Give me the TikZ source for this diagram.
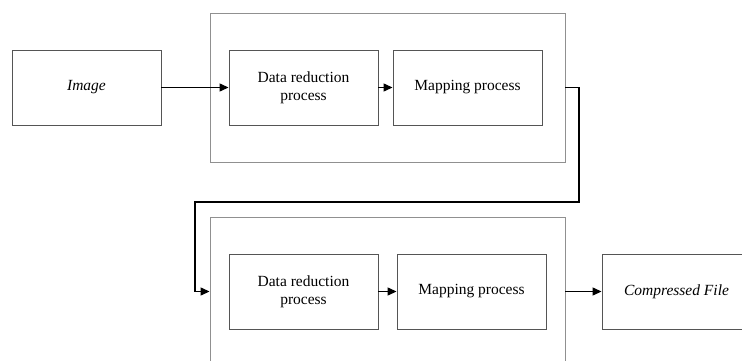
\documentclass[tikz,border=0pt]{standalone}
\usepackage{fontspec}
\setmainfont{Liberation Serif}
\usetikzlibrary{arrows.meta}
\definecolor{outergray}{HTML}{909090}
\definecolor{innergray}{HTML}{555555}
\tikzset{
  outerbox/.style={draw=outergray, line width=0.9pt, minimum width=355pt, minimum height=149pt, inner sep=0pt},
  procbox/.style={draw=innergray, line width=0.9pt, minimum width=149pt, minimum height=75pt, inner sep=0pt, align=center, font=\fontsize{15.5}{18}\selectfont},
  flow/.style={line width=1.3pt, -{Triangle[length=9pt,width=8pt]}}
}
\begin{document}
\begin{tikzpicture}[x=1pt,y=-1pt]
\useasboundingbox (0,0) rectangle (742,361);
\clip (0,0) rectangle (742,361);
\fill[white] (0,0) rectangle (742,361);
\node[outerbox] (outer1) at (387.5,87.5) {};
\node[outerbox] (outer2) at (387.5,291.5) {};
\node[procbox] (img) at (86.5,87.5) {\itshape Image};
\node[procbox] (dr1) at (303.5,87.5) {Data reduction\\process};
\node[procbox] (mp1) at (467.5,87.5) {Mapping process};
\node[procbox] (dr2) at (303.5,291.5) {Data reduction\\process};
\node[procbox] (mp2) at (471.5,291.5) {Mapping process};
\node[procbox] (cf) at (676.5,291.5) {\itshape Compressed File};
\coordinate (c1) at (579,202);
\coordinate (c2) at (195,202);
\draw[flow] (img.east) -- (dr1.west);
\draw[flow] (dr1.east) -- (mp1.west);
\draw[flow] (outer1.east) -| (c1) -- (c2) |- (outer2.west);
\draw[flow] (dr2.east) -- (mp2.west);
\draw[flow] (outer2.east) -- (cf.west);
\end{tikzpicture}
\end{document}
